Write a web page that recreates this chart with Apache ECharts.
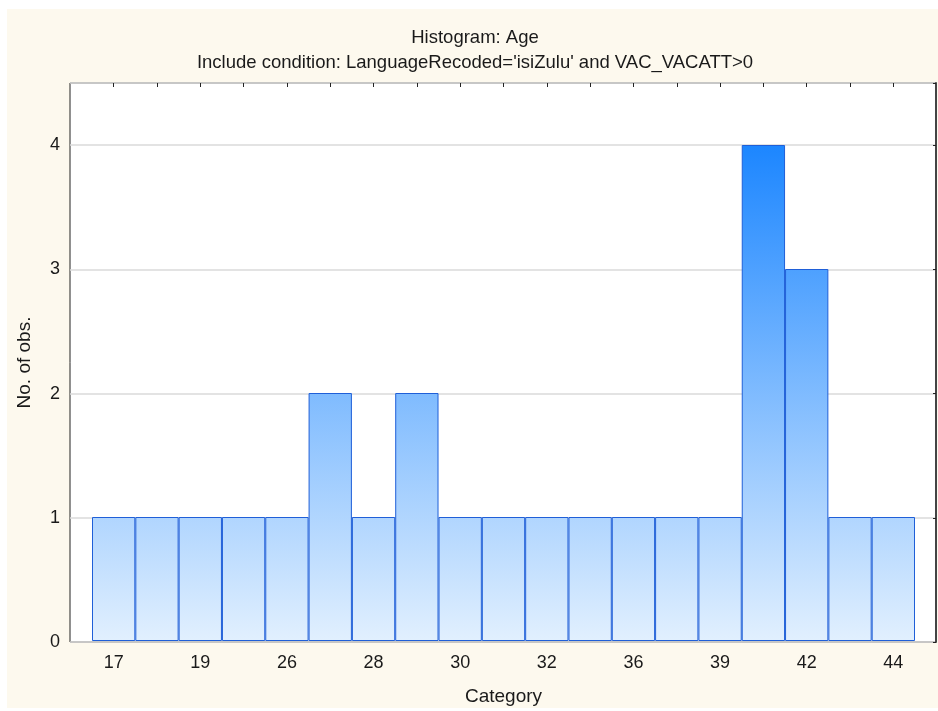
<!DOCTYPE html>
<html>
<head>
<meta charset="utf-8">
<script src="https://cdn.jsdelivr.net/npm/echarts@6/dist/echarts.min.js"></script>
<style>
  html, body { margin: 0; padding: 0; background: #fff; }
  #chart { width: 938px; height: 711px; }
</style>
</head>
<body>
<div id="chart"></div>
<script>
const categories = ["17", "18", "19", "23", "26", "27", "28", "29", "30", "31", "32", "34", "36", "37", "39", "41", "42", "43", "44"];
const counts = [1, 1, 1, 1, 1, 2, 1, 2, 1, 1, 1, 1, 1, 1, 1, 4, 3, 1, 1];
const yTicks = [0, 1, 2, 3, 4];

const chart = echarts.init(document.getElementById("chart"));
const font = "Liberation Sans, Arial, sans-serif";

// gradient is shared across bars: colour depends on height in the plot
const barFill = new echarts.graphic.LinearGradient(0, 642, 0, 145, [
  { offset: 0, color: "#e2f0fe" },
  { offset: 1, color: "#1c86ff" }
], true);

const options = {
  animation: false,
  textStyle: { fontFamily: font },
  graphic: [{
    type: "rect",
    z: -10,
    shape: { x: 7, y: 9, width: 931, height: 699 },
    style: { fill: "#fdf9ee" }
  }],
  title: {
    text: "Histogram: Age\nInclude condition: LanguageRecoded='isiZulu' and VAC_VACATT>0",
    left: 470,
    textAlign: "center",
    top: 20,
    textStyle: { fontSize: 18.5, fontWeight: "normal", color: "#1a1a1a", lineHeight: 25, fontFamily: font }
  },
  grid: [
    { left: 70, right: 2, top: 83, bottom: 69, show: true, backgroundColor: "#fff", borderColor: "#222", borderWidth: 1 },
    { left: 92, right: 23, top: 83, bottom: 69 }
  ],
  xAxis: [
    { gridIndex: 0, type: "value", min: 0, max: 1, show: false },
    {
      gridIndex: 1,
      type: "category",
      data: categories,
      name: "Category",
      nameLocation: "middle",
      nameGap: 46,
      nameTextStyle: { fontSize: 19, color: "#1a1a1a" },
      axisLine: { show: false },
      axisTick: { show: true, inside: true, alignWithLabel: true, length: 4, interval: 0, lineStyle: { color: "#222" } },
      axisLabel: { interval: 1, fontSize: 18, color: "#1a1a1a", margin: 13 }
    },
    {
      gridIndex: 1,
      type: "category",
      position: "top",
      data: categories,
      axisLine: { show: false },
      axisTick: { show: true, inside: true, alignWithLabel: true, length: 4, interval: 0, lineStyle: { color: "#222" } },
      axisLabel: { show: false }
    }
  ],
  yAxis: [
    {
      gridIndex: 0,
      type: "value",
      min: 0,
      max: 4.5,
      interval: 1,
      name: "No. of obs.",
      nameLocation: "middle",
      nameGap: 36,
      nameTextStyle: { fontSize: 19, color: "#1a1a1a" },
      axisLine: { show: false },
      axisTick: { show: false },
      axisLabel: {
        fontSize: 18, color: "#1a1a1a", margin: 10,
        formatter: v => (yTicks.includes(v) ? String(v) : "")
      },
      splitLine: { show: true, lineStyle: { color: "#dadada", width: 1.5 } }
    },
    {
      gridIndex: 0,
      type: "value",
      position: "right",
      min: 0,
      max: 4.5,
      interval: 1,
      axisLine: { show: true, lineStyle: { color: "#444", width: 2 } },
      axisTick: { show: true, inside: true, length: 3, lineStyle: { color: "#222" } },
      axisLabel: { show: false },
      splitLine: { show: false }
    },
    {
      gridIndex: 1,
      type: "value",
      min: 0,
      max: 4.5,
      show: false
    }
  ],
  series: [{
    type: "bar",
    xAxisIndex: 1,
    yAxisIndex: 2,
    data: counts,
    barCategoryGap: 0,
    itemStyle: { color: barFill, borderColor: "#1f5fd8", borderWidth: 1 }
  }]
};

chart.setOption(options);
</script>
</body>
</html>
